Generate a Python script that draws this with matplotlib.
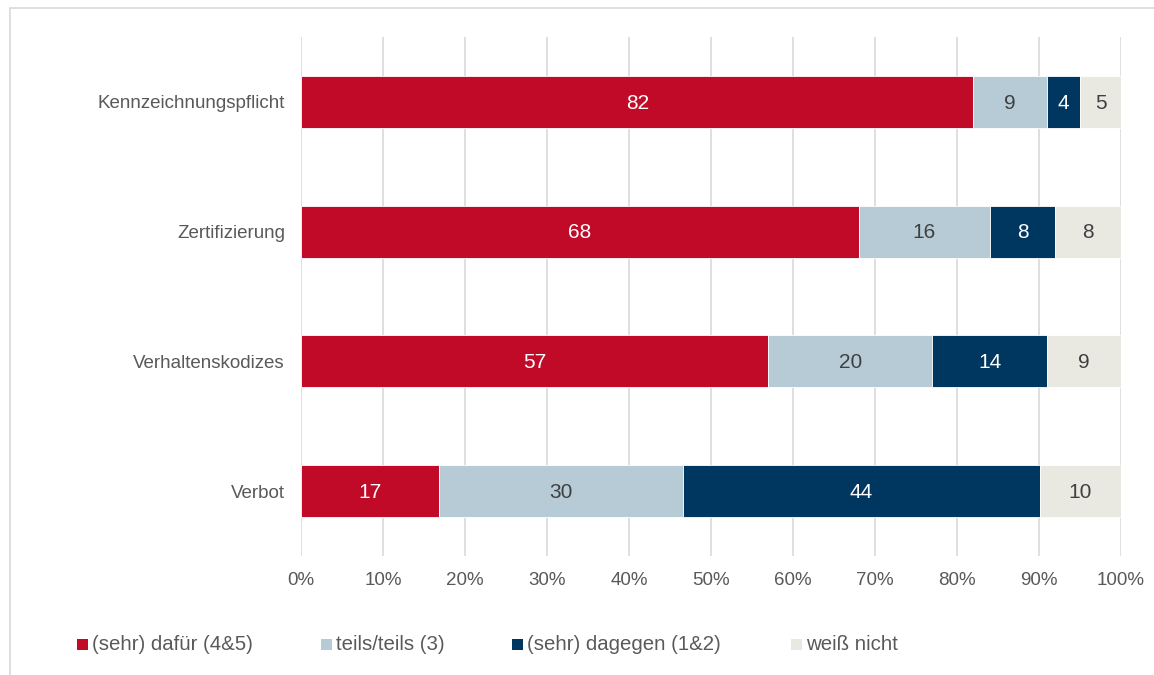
import matplotlib.pyplot as plt
import matplotlib.patches as mpatches
import numpy as np

plt.rcParams['font.family'] = ['Liberation Sans', 'DejaVu Sans']

categories = ["Kennzeichnungspflicht", "Zertifizierung", "Verhaltenskodizes", "Verbot"]
series_names = ["(sehr) dafür (4&5)", "teils/teils (3)", "(sehr) dagegen (1&2)", "weiß nicht"]
dafuer = [82, 68, 57, 17]
teils = [9, 16, 20, 30]
dagegen = [4, 8, 14, 44]
weiss_nicht = [5, 8, 9, 10]
tick_labels = ["0%", "10%", "20%", "30%", "40%", "50%", "60%", "70%", "80%", "90%", "100%"]

colors = ["#C00A27", "#B6CBD6", "#003761", "#E9E9E2"]
label_colors = ["white", "#404040", "white", "#404040"]

W, H = 1154, 675
fig = plt.figure(figsize=(W / 100, H / 100), dpi=100)

# light outer frame (cut at right / bottom like the source image)
fig.add_artist(mpatches.Rectangle((10 / W, -0.1), 1.2, 1 - 8 / H + 0.1,
                                  transform=fig.transFigure, fill=False,
                                  ec="#D9D9D9", lw=1.2))

ax = fig.add_axes([301 / W, 1 - 556 / H, 820 / W, 519 / H])

data = np.array([dafuer, teils, dagegen, weiss_nicht], dtype=float)
shares = data / data.sum(axis=0)
y = np.arange(len(categories))
left = np.zeros(len(categories))
for i, name in enumerate(series_names):
    bars = ax.barh(y, shares[i], left=left, height=0.4, color=colors[i],
                   edgecolor="white", linewidth=0.6, label=name, zorder=3)
    for b, v in zip(bars, data[i]):
        ax.text(b.get_x() + b.get_width() / 2, b.get_y() + b.get_height() / 2 + 0.01,
                f"{v:.0f}", ha="center", va="center", fontsize=15,
                color=label_colors[i], zorder=4)
    left += shares[i]

ax.set_xlim(0, 1)
ax.set_ylim(len(categories) - 0.5, -0.5)
ax.set_yticks(y)
ax.set_yticklabels(categories)
ax.set_xticks(np.linspace(0, 1, len(tick_labels)))
ax.set_xticklabels(tick_labels)
ax.tick_params(axis="both", length=0, labelsize=13.5, labelcolor="#595959")
ax.tick_params(axis="y", pad=11.5)
ax.tick_params(axis="x", pad=11.5)
ax.grid(axis="x", color="#D9D9D9", lw=1.2, zorder=0)
for s in ax.spines.values():
    s.set_visible(False)

# legend laid out by hand to match the spacing of the original
legend_x = [77, 321, 512, 791]
legend_y = 644
for xp, c, name in zip(legend_x, colors, series_names):
    fig.add_artist(mpatches.Rectangle((xp / W, 1 - (legend_y + 5.5) / H), 11 / W, 11 / H,
                                      transform=fig.transFigure, fc=c, ec="none"))
    fig.text((xp + 15) / W, 1 - (legend_y + 1) / H, name, ha="left", va="center",
             fontsize=14.7, color="#595959")

fig.savefig("out.png", dpi=100)
